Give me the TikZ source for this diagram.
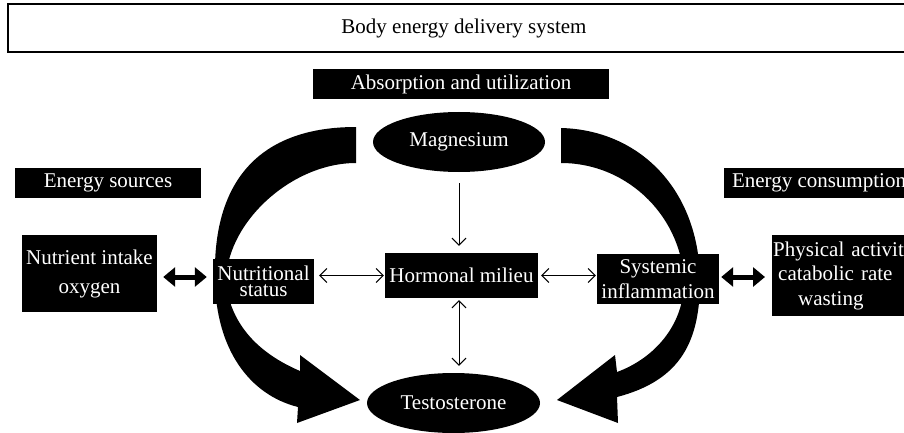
\documentclass[tikz,border=0pt]{standalone}
\usepackage{fontspec}
\setmainfont{Liberation Serif}
\usetikzlibrary{arrows.meta,shapes.geometric}
\tikzset{
  blk/.style={fill=black, text=white, inner sep=0pt, align=center, font=\fontsize{21}{25}\selectfont},
  oval/.style={ellipse, fill=black, text=white, inner sep=0pt, minimum width=172pt, minimum height=60pt, font=\fontsize{21}{25}\selectfont},
  thinarr/.style={line width=1pt, {Straight Barb[length=7pt,width=14pt]}-{Straight Barb[length=7pt,width=14pt]}},
  onearr/.style={line width=1pt, -{Straight Barb[length=7pt,width=14pt]}},
  fatarr/.style={line width=5pt, {Triangle[length=12pt,width=19pt]}-{Triangle[length=12pt,width=19pt]}},
  bigarrow/.style={fill=black}
}
\begin{document}
\begin{tikzpicture}[x=1pt,y=-1pt]
\clip (0,0) rectangle (904,433);
\fill[white] (0,0) rectangle (904,433);

% big curved arrows
\fill[bigarrow] (356,127) .. controls (265,127) and (212,175) .. (215,280)
  .. controls (216,350) and (250,395) .. (298,407) -- (297,423) -- (360,400) -- (300,355) -- (300,371)
  .. controls (258,353) and (232,325) .. (226,285)
  .. controls (224,225) and (290,163) .. (356,163) -- cycle;
\fill[bigarrow] (561,128) .. controls (640,130) and (699,190) .. (700,280)
  .. controls (700,340) and (682,380) .. (617,397) -- (618,423) -- (557,400) -- (615,355) -- (617,372)
  .. controls (650,360) and (682,330) .. (684,285)
  .. controls (684,220) and (630,163) .. (561,163) -- cycle;

% title
\node[draw=black, line width=1.2pt, minimum width=912pt, minimum height=48pt, inner sep=0pt,
      font=\fontsize{21}{25}\selectfont] (title) at (464,28) {Body energy delivery system};

\node[blk, minimum width=296pt, minimum height=30pt] (abs) at (461,84) {Absorption and utilization};
\node[blk, minimum width=186pt, minimum height=30pt] (es) at (108,183) {Energy sources};
\node[blk, minimum width=190pt, minimum height=30pt] (ec) at (819,183) {Energy consumption};

\node[oval] (mg) at (459,142) {Magnesium};
\node[oval, minimum width=173pt] (ts) at (453.5,403) {Testosterone};

\node[blk, minimum width=135pt, minimum height=77pt, font=\fontsize{21}{29}\selectfont] (ni) at (89.5,273.5) {Nutrient intake\\oxygen};
\node[blk, minimum width=101pt, minimum height=45pt, font=\fontsize{21}{16.5}\selectfont] (ns) at (263.5,281.5) {Nutritional\\status};
\node[blk, minimum width=153pt, minimum height=45pt] (hm) at (461.5,275.5) {Hormonal milieu};
\node[blk, minimum width=122pt, minimum height=50pt] (si) at (658,279) {Systemic\\inflammation};
\node[blk, text width=150pt, inner xsep=1pt, minimum height=81pt, align=left,
      font=\fontsize{21}{24.5}\selectfont, anchor=west] (pa) at (772,275.5)
      {Physical activity\\\hspace*{5pt}catabolic rate\\\hspace*{25pt}wasting};

\coordinate (ya) at (0,277);
\draw[onearr, shorten <=11pt, shorten >=7pt] (mg.south) -- (mg.south |- hm.north);
\draw[thinarr, shorten <=2pt, shorten >=7pt] (mg.south |- hm.south) -- (mg.south |- ts.north);
\draw[thinarr, shorten <=5pt, shorten >=1pt] (ns.east |- hm.west) -- (hm.west);
\draw[thinarr, shorten <=3pt, shorten >=1pt] (hm.east) -- (hm.east -| si.west);
\draw[fatarr, shorten <=6pt, shorten >=6pt] (ni.east |- ya) -- (ns.west |- ya);
\draw[fatarr, shorten <=2pt, shorten >=7pt] (si.east |- ya) -- (pa.west |- ya);
\end{tikzpicture}
\end{document}
